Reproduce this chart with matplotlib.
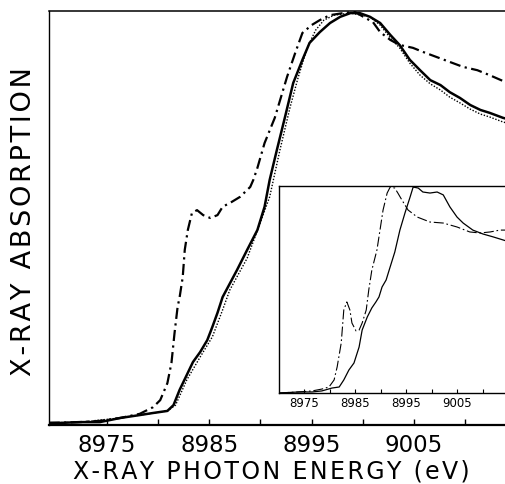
import matplotlib
matplotlib.use("Agg")
import matplotlib.pyplot as plt

# ---------------- data ----------------
# main panel: solid (thick), dotted, dash-dot
solid_E = [8969.3, 8970.4, 8972.4, 8974.3, 8976.3, 8978.2, 8979.5, 8980.9, 8981.5, 8982.1,
           8982.8, 8983.4, 8984.1, 8984.8, 8985.3, 8985.8, 8986.3, 8987.7, 8988.7, 8989.7,
           8990.4, 8990.9, 8991.6, 8992.4, 8993.2, 8994.1, 8994.8, 8995.8, 8996.8, 8997.8,
           8998.8, 8999.7, 9000.7, 9001.7, 9002.7, 9003.6, 9004.6, 9005.6, 9006.6, 9007.6,
           9008.5, 9009.5, 9010.5, 9011.5, 9012.4, 9013.7, 9014.0]
solid_A = [0.005, 0.005, 0.007, 0.007, 0.017, 0.024, 0.029, 0.034, 0.048, 0.085,
           0.121, 0.152, 0.176, 0.205, 0.237, 0.271, 0.309, 0.374, 0.423, 0.471,
           0.527, 0.592, 0.664, 0.744, 0.826, 0.882, 0.923, 0.949, 0.971, 0.986,
           0.995, 0.995, 0.986, 0.971, 0.942, 0.918, 0.882, 0.857, 0.833, 0.821,
           0.804, 0.790, 0.773, 0.761, 0.754, 0.742, 0.740]

dotted_E = [8969.3, 8972.4, 8976.3, 8978.2, 8980.9, 8981.7, 8982.8, 8984.1, 8985.3, 8986.3,
            8987.0, 8988.7, 8990.0, 8990.9, 8991.9, 8992.9, 8993.7, 8994.6, 8995.4, 8996.2,
            8997.2, 8998.8, 9000.7, 9001.7, 9002.7, 9003.6, 9004.6, 9005.6, 9006.6, 9007.6,
            9008.5, 9009.5, 9010.5, 9011.5, 9012.4, 9013.7, 9014.0]
dotted_A = [0.005, 0.007, 0.017, 0.024, 0.034, 0.048, 0.109, 0.164, 0.213, 0.278,
            0.326, 0.403, 0.490, 0.551, 0.664, 0.768, 0.841, 0.913, 0.954, 0.978,
            0.990, 0.995, 0.986, 0.966, 0.935, 0.911, 0.874, 0.845, 0.824, 0.809,
            0.792, 0.778, 0.763, 0.751, 0.744, 0.732, 0.730]

dashdot_E = [8969.3, 8972.4, 8974.3, 8976.3, 8978.2, 8979.5, 8980.2, 8980.9, 8981.3, 8981.6,
             8981.9, 8982.1, 8982.4, 8982.6, 8982.9, 8983.3, 8983.8, 8984.4, 8985.1, 8985.8,
             8986.3, 8987.2, 8988.0, 8989.0, 8989.3, 8989.7, 8990.4, 8991.4, 8992.6, 8993.4,
             8994.1, 8995.0, 8995.8, 8996.8, 8998.1, 8999.2, 9001.0, 9001.7, 9002.7, 9003.6,
             9004.9, 9005.9, 9007.2, 9008.5, 9009.8, 9011.2, 9012.4, 9013.7, 9014.0]
dashdot_A = [0.005, 0.007, 0.010, 0.017, 0.027, 0.043, 0.060, 0.101, 0.150, 0.222,
             0.285, 0.309, 0.357, 0.423, 0.471, 0.512, 0.519, 0.507, 0.500, 0.507,
             0.527, 0.539, 0.551, 0.575, 0.592, 0.621, 0.681, 0.742, 0.841, 0.899,
             0.947, 0.966, 0.978, 0.990, 0.995, 0.998, 0.973, 0.949, 0.930, 0.918,
             0.911, 0.901, 0.889, 0.877, 0.865, 0.857, 0.845, 0.831, 0.829]

# inset panel: solid and dash-dot
inset_dd_E = [8970.1, 8974.0, 8976.6, 8978.5, 8979.9, 8980.9, 8981.5, 8982.3, 8982.8, 8983.4,
              8984.0, 8984.4, 8985.2, 8985.8, 8986.4, 8987.2, 8987.7, 8988.3, 8989.3, 8989.9,
              8990.5, 8991.3, 8991.9, 8992.8, 8993.4, 8994.2, 8994.8, 8995.4, 8997.2, 8999.7,
              9002.3, 9005.0, 9007.5, 9009.5, 9011.5, 9013.4, 9014.6]
inset_dd_A = [0.0, 0.005, 0.010, 0.019, 0.029, 0.063, 0.126, 0.242, 0.401, 0.440,
              0.401, 0.338, 0.300, 0.304, 0.338, 0.401, 0.498, 0.594, 0.691, 0.787,
              0.884, 0.966, 0.995, 0.990, 0.966, 0.932, 0.908, 0.884, 0.850, 0.826,
              0.821, 0.802, 0.778, 0.773, 0.778, 0.787, 0.787]

inset_s_E = [8970.1, 8974.0, 8976.6, 8978.5, 8980.5, 8981.9, 8982.8, 8983.8, 8984.8, 8985.8,
             8986.4, 8987.4, 8988.3, 8989.1, 8989.7, 8990.3, 8991.1, 8991.7, 8992.8, 8993.8,
             8994.8, 8995.8, 8996.4, 8997.4, 8998.3, 8999.7, 9001.1, 9002.3, 9003.6, 9005.0,
             9006.2, 9008.1, 9010.1, 9012.1, 9014.6]
inset_s_A = [0.0, 0.005, 0.005, 0.010, 0.024, 0.029, 0.063, 0.111, 0.145, 0.222,
             0.304, 0.367, 0.411, 0.440, 0.464, 0.512, 0.546, 0.594, 0.681, 0.787,
             0.870, 0.947, 0.995, 0.990, 0.971, 0.966, 0.971, 0.957, 0.899, 0.850,
             0.821, 0.787, 0.768, 0.754, 0.735]

tick_labels = [8975, 8985, 8995, 9005]
minor_ticks = [8980, 8990, 9000, 9010]
x_label = "X-RAY PHOTON ENERGY (eV)"
y_label = "X-RAY ABSORPTION"


def spaced(text, gap):
    """Widen the letter spacing of a label (the reference is typeset loosely)."""
    return gap.join(text)


# ---------------- figure ----------------
plt.rcParams['font.family'] = ['DejaVu Sans']
W, H = 506, 484
fig = plt.figure(figsize=(W / 100, H / 100), dpi=100)

ax = fig.add_axes([49 / W, 59 / H, 457 / W, 414 / H])
ax.plot(dotted_E, dotted_A, color='black', lw=1.0, ls=(0, (1, 1.2)))
ax.plot(dashdot_E, dashdot_A, color='black', lw=1.6, ls=(0, (5, 2, 1, 2)))
ax.plot(solid_E, solid_A, color='black', lw=1.8)
ax.set_xlim(8969.33, 9014.0)
ax.set_ylim(0, 1.0)
ax.set_xticks(tick_labels)
ax.set_xticklabels([str(t) for t in tick_labels])
ax.set_xticks(minor_ticks, minor=True)
ax.set_yticks([])
ax.tick_params(axis='x', which='both', direction='in', length=4, width=1.0,
               labelsize=16.5, pad=6.5)
ax.spines['right'].set_visible(False)
ax.spines['left'].set_linewidth(1.0)
ax.spines['top'].set_linewidth(1.1)
ax.spines['bottom'].set_linewidth(1.6)

fig.text(271 / W, 1 - 479 / H, spaced(x_label, '\u200a'), ha='center', va='baseline',
         fontsize=17)
fig.text(24 / W, 1 - 222 / H, spaced(y_label, '\u200a'), ha='center', va='center',
         fontsize=19.5, rotation=90)

# inset
ins = fig.add_axes([279 / W, 91 / H, 227 / W, 207 / H])
ins.set_facecolor('white')
ins.plot(inset_dd_E, inset_dd_A, color='black', lw=0.8, ls=(0, (9, 2.5, 1.5, 2.5)))
ins.plot(inset_s_E, inset_s_A, color='black', lw=0.9)
ins.set_xlim(8970.1, 9014.6)
ins.set_ylim(0, 1.0)
ins.set_xticks(tick_labels)
ins.set_xticklabels([str(t) for t in tick_labels])
ins.set_xticks(minor_ticks, minor=True)
ins.set_yticks([])
ins.tick_params(axis='x', which='both', direction='in', length=3, width=0.8,
                labelsize=8.5, pad=3)
ins.spines['right'].set_visible(False)
for s in ['left', 'top', 'bottom']:
    ins.spines[s].set_linewidth(1.0)

fig.savefig('out.png', dpi=100)
